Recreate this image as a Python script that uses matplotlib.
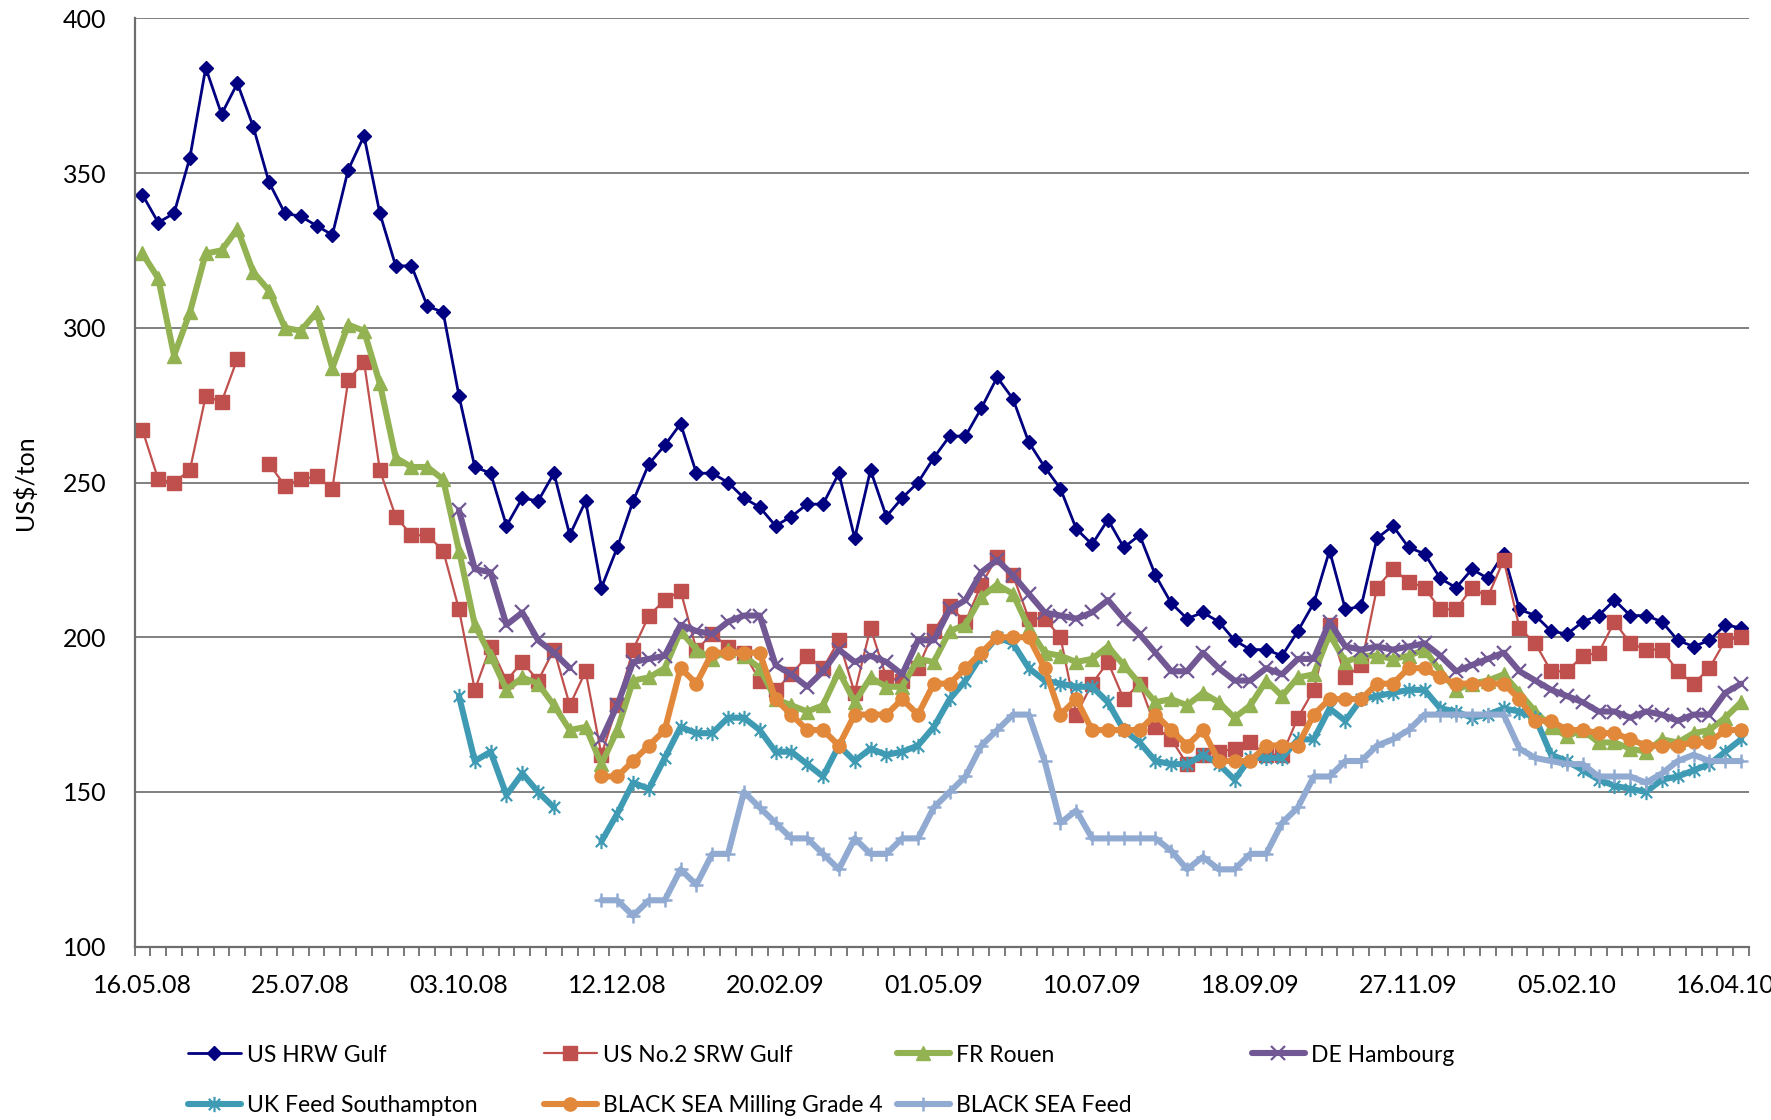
import numpy as np
import matplotlib
matplotlib.use("Agg")
import matplotlib.pyplot as plt
from matplotlib.path import Path

plt.rcParams['font.family'] = ['Lato', 'DejaVu Sans']

# ---------------- data (weekly quotes, US$/ton) ----------------
tick_labels = ["16.05.08", "25.07.08", "03.10.08", "12.12.08", "20.02.09", "01.05.09",
               "10.07.09", "18.09.09", "27.11.09", "05.02.10", "16.04.10"]
N_WEEKS = 102

us_hrw_gulf = [343, 334, 337, 355, 384, 369, 379, 365, 347, 337, 336, 333, 330, 351, 362, 337,
               320, 320, 307, 305, 278, 255, 253, 236, 245, 244, 253, 233, 244, 216, 229, 244,
               256, 262, 269, 253, 253, 250, 245, 242, 236, 239, 243, 243, 253, 232, 254, 239,
               245, 250, 258, 265, 265, 274, 284, 277, 263, 255, 248, 235, 230, 238, 229, 233,
               220, 211, 206, 208, 205, 199, 196, 196, 194, 202, 211, 228, 209, 210, 232, 236,
               229, 227, 219, 216, 222, 219, 227, 209, 207, 202, 201, 205, 207, 212, 207, 207,
               205, 199, 197, 199, 204, 203]

us_srw_gulf = [267, 251, 250, 254, 278, 276, 290, None, 256, 249, 251, 252, 248, 283, 289, 254,
               239, 233, 233, 228, 209, 183, 197, 186, 192, 186, 196, 178, 189, 162, 178, 196,
               207, 212, 215, 196, 201, 197, 195, 186, 183, 188, 194, 190, 199, 182, 203, 187,
               186, 190, 202, 210, 205, 217, 226, 220, 206, 206, 200, 175, 185, 192, 180, 185,
               171, 167, 159, 162, 163, 164, 166, 162, 162, 174, 183, 204, 187, 191, 216, 222,
               218, 216, 209, 209, 216, 213, 225, 203, 198, 189, 189, 194, 195, 205, 198, 196,
               196, 189, 185, 190, 199, 200]

fr_rouen = [324, 316, 291, 305, 324, 325, 332, 318, 312, 300, 299, 305, 287, 301, 299, 282,
            258, 255, 255, 251, 228, 204, 194, 183, 187, 185, 178, 170, 171, 159, 170, 186,
            187, 190, 202, 196, 193, 196, 194, 190, 180, 178, 176, 178, 189, 179, 187, 184,
            184, 193, 192, 202, 204, 213, 217, 214, 203, 195, 194, 192, 193, 197, 191, 185,
            179, 180, 178, 182, 179, 174, 178, 186, 181, 187, 188, 201, 192, 194, 194, 193,
            194, 196, 189, 183, 185, 186, 188, 182, 176, 171, 168, 170, 166, 166, 164, 163,
            167, 166, 169, 170, 174, 179]

de_hambourg = [None] * 20 + [
            241, 222, 221, 204, 208, 199, 195, 190, None, 167, 178, 192,
            193, 194, 204, 202, 201, 205, 207, 207, 191, 188, 184, 189, 196, 192, 194, 192,
            188, 199, 199, 209, 212, 221, 225, 220, 214, 208, 207, 206, 208, 212, 206, 201,
            195, 189, 189, 195, 190, 186, 186, 190, 188, 193, 193, 205, 197, 196, 197, 196,
            197, 198, 194, 189, 191, 193, 195, 189, 186, 183, 181, 179, 176, 176, 174, 176,
            175, 173, 175, 175, 182, 185]

uk_feed_southampton = [None] * 20 + [
            181, 160, 163, 149, 156, 150, 145, None, None, 134, 143, 153,
            151, 161, 171, 169, 169, 174, 174, 170, 163, 163, 159, 155, 165, 160, 164, 162,
            163, 165, 171, 180, 186, 194, 200, 198, 190, 186, 185, 184, 184, 179, 170, 166,
            160, 159, 159, 162, 159, 154, 161, 161, 161, 167, 167, 177, 173, 180, 181, 182,
            183, 183, 177, 176, 174, 175, 177, 176, 174, 162, 160, 157, 154, 152, 151, 150,
            154, 155, 157, 159, 163, 167]

black_sea_milling_4 = [None] * 29 + [
            155, 155, 160,
            165, 170, 190, 185, 195, 195, 195, 195, 180, 175, 170, 170, 165, 175, 175, 175,
            180, 175, 185, 185, 190, 195, 200, 200, 200, 190, 175, 180, 170, 170, 170, 170,
            175, 170, 165, 170, 160, 160, 160, 165, 165, 165, 175, 180, 180, 180, 185, 185,
            190, 190, 187, 185, 185, 185, 185, 180, 173, 173, 170, 170, 169, 169, 167, 165,
            165, 165, 166, 166, 170, 170]

black_sea_feed = [None] * 29 + [
            115, 115, 110,
            115, 115, 125, 120, 130, 130, 150, 145, 140, 135, 135, 130, 125, 135, 130, 130,
            135, 135, 145, 150, 155, 165, 170, 175, 175, 160, 140, 144, 135, 135, 135, 135,
            135, 131, 125, 129, 125, 125, 130, 130, 140, 145, 155, 155, 160, 160, 165, 167,
            170, 175, 175, 175, 175, 175, 175, 164, 161, 160, 159, 159, 155, 155, 155, 153,
            156, 160, 162, 160, 160, 160]

series_names = ["US HRW Gulf", "US No.2 SRW Gulf", "FR Rouen", "DE Hambourg",
                "UK Feed Southampton", "BLACK SEA Milling Grade 4", "BLACK SEA Feed"]
series_values = [us_hrw_gulf, us_srw_gulf, fr_rouen, de_hambourg,
                 uk_feed_southampton, black_sea_milling_4, black_sea_feed]

# ---------------- styles ----------------
asterisk = Path([(-1, -1), (1, 1), (-1, 1), (1, -1), (0, -1.35), (0, 1.35)],
                [Path.MOVETO, Path.LINETO, Path.MOVETO, Path.LINETO, Path.MOVETO, Path.LINETO])

styles = [
    dict(color="#000080", lw=2.0, marker="D", ms=7, mfc="#000080", mec="#000080", mew=1),
    dict(color="#C0504D", lw=1.6, marker="s", ms=9.5, mfc="#C0504D", mec="#C0504D", mew=1),
    dict(color="#93B252", lw=4.4, marker="^", ms=10, mfc="#93B252", mec="#93B252", mew=1),
    dict(color="#715894", lw=4.4, marker="x", ms=10, mfc="none", mec="#715894", mew=1.6),
    dict(color="#3F9BB4", lw=4.4, marker=asterisk, ms=11, mfc="none", mec="#3F9BB4", mew=1.6),
    dict(color="#E2883B", lw=4.4, marker="o", ms=9.5, mfc="#E2883B", mec="#E2883B", mew=1),
    dict(color="#91AAD1", lw=4.4, marker="+", ms=10, mfc="none", mec="#91AAD1", mew=1.8),
]

W, H = 1771, 1120
fig = plt.figure(figsize=(W / 100, H / 100), dpi=100)
ax = fig.add_axes([134.5 / W, 1 - 946.7 / H, (1749 - 134.5) / W, (946.7 - 18.3) / H])

x = np.arange(N_WEEKS)
handles = []
for name, vals, st in zip(series_names, series_values, styles):
    y = np.array([np.nan if v is None else v for v in vals], dtype=float)
    (ln,) = ax.plot(x, y, label=name, solid_joinstyle="round", solid_capstyle="round", **st)
    handles.append(ln)

ax.set_xlim(-0.5, N_WEEKS - 0.5)
ax.set_ylim(100, 400)

# grid
ax.set_yticks(np.arange(100, 401, 50))
ax.yaxis.grid(True, color="#808080", lw=1.4)
ax.set_axisbelow(True)

# x ticks: labels every 10 weeks, small tick marks at every category boundary
ax.set_xticks(np.arange(0, N_WEEKS, 10))
ax.set_xticklabels(tick_labels)
ax.set_xticks(np.arange(-0.5, N_WEEKS, 1), minor=True)
ax.tick_params(axis="x", which="major", length=0, pad=20, labelsize=18)
ax.tick_params(axis="x", which="minor", length=6.5, width=1.3, color="#6E6E6E", direction="out")
ax.tick_params(axis="y", which="major", length=0, pad=20, labelsize=18)

for s in ["top", "right"]:
    ax.spines[s].set_visible(False)
for s in ["left", "bottom"]:
    ax.spines[s].set_color("#6E6E6E")
    ax.spines[s].set_linewidth(1.6)

fig.text(25 / W, 1 - 483 / H, "US$/ton", rotation=90, ha="center", va="center", fontsize=18)

# legend: 4 columns x 2 rows, placed entry by entry like the original
col_x = [188, 544, 897, 1252]
row_y = [1055, 1106]
slots = [(0, 0), (1, 0), (2, 0), (3, 0), (0, 1), (1, 1), (2, 1)]
for h, (c, r) in zip(handles, slots):
    fig.legend(handles=[h], labels=[h.get_label()], loc="center left",
               bbox_to_anchor=(col_x[c] / W, 1 - row_y[r] / H), frameon=False,
               borderpad=0, borderaxespad=0, handlelength=2.3, handletextpad=0.26,
               fontsize=16.5, numpoints=1)

fig.savefig("out.png", dpi=100)
